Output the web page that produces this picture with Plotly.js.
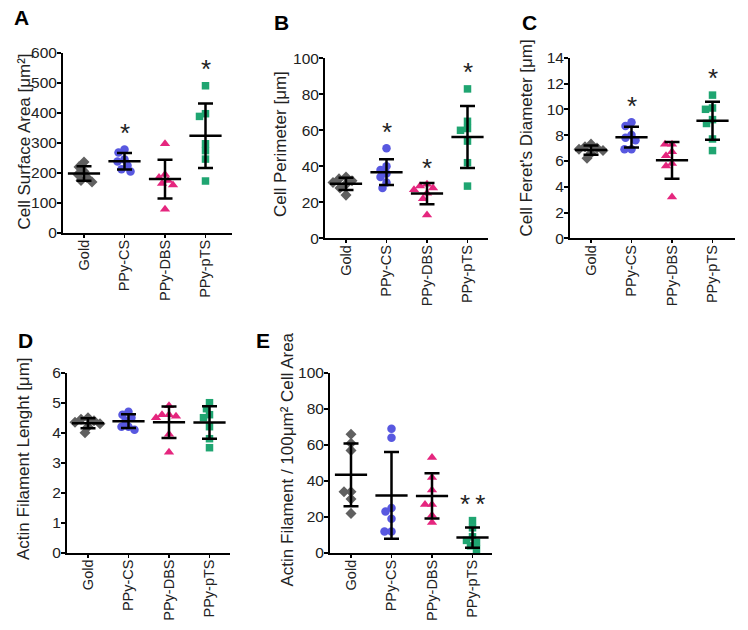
<!DOCTYPE html>
<html>
<head>
<meta charset="utf-8">
<script src="https://cdn.plot.ly/plotly-3.0.1.min.js"></script>
<style>
  html, body { margin: 0; padding: 0; background: #fff; }
  #chart { width: 748px; height: 630px; }
</style>
</head>
<body>
<div id="chart"></div>
<script>
var groups = ['Gold', 'PPy-CS', 'PPy-DBS', 'PPy-pTS'];
var colors = ['#606060', '#5858e0', '#e5267e', '#1fa571'];
var symbols = ['diamond', 'circle', 'triangle-up', 'square'];
var symbolSizes = [8.5, 8.5, 9, 7.5];

// values, one list per substrate (Gold, CS, DBS, pTS)
var surfaceArea = [
  [236, 220, 205, 195, 185, 175, 170],
  [278, 268, 245, 238, 225, 212, 205],
  [297, 195, 185, 175, 165, 160, 79],
  [490, 397, 388, 297, 274, 246, 173]
];
var perimeter = [
  [34, 33, 32, 31, 30, 28, 24],
  [50, 40, 38, 36, 34, 31, 28],
  [30, 29, 28, 27, 25, 22, 13],
  [83, 65, 61, 60, 54, 42, 29]
];
var feretDiameter = [
  [7.3, 7.1, 7.0, 6.9, 6.8, 6.6, 6.2],
  [9.0, 8.7, 8.0, 7.8, 7.6, 6.9, 6.9],
  [7.3, 7.3, 6.7, 6.4, 5.8, 5.6, 3.2],
  [11.1, 10.1, 10.0, 9.2, 8.9, 7.7, 6.8]
];
var filamentLength = [
  [4.5, 4.45, 4.4, 4.35, 4.3, 4.2, 4.0],
  [4.7, 4.6, 4.5, 4.4, 4.2, 4.2, 4.1],
  [4.9, 4.6, 4.6, 4.55, 4.5, 3.95, 3.35],
  [5.0, 4.8, 4.6, 4.5, 4.2, 3.8, 3.5]
];
var filamentPerArea = [
  [66, 61, 57, 34, 34, 30, 22],
  [69, 64, 25, 23, 19, 12, 12],
  [53, 42, 35, 27, 27, 21, 17],
  [18, 14, 9, 7, 6, 4, 2]
];

// significance marks per group
var areaStars = ['', '*', '', '*'];
var perimeterStars = ['', '*', '*', '*'];
var feretStars = ['', '*', '', '*'];
var lengthStars = ['', '', '', ''];
var perAreaStars = ['', '', '', '*\u2009*'];

var W = 748, H = 630;
var catStep = 40.5;   // px between categories
var catOffset = 21;   // px from y axis to first category
var font = 'Arial, "Liberation Sans", sans-serif';

var panels = [
  {label: 'A', data: surfaceArea, stars: areaStars, ymax: 600, dtick: 100,
   title: 'Cell Surface Area [μm²]',
   left: 63, right: 232, top: 52.7, bottom: 233, titleX: 24, titleY: 141.5, labelX: 21, labelY: 17.5},
  {label: 'B', data: perimeter, stars: perimeterStars, ymax: 100, dtick: 20,
   title: 'Cell Perimeter [μm]',
   left: 325, right: 488, top: 58.3, bottom: 238.3, titleX: 281, titleY: 144, labelX: 281.5, labelY: 22.5},
  {label: 'C', data: feretDiameter, stars: feretStars, ymax: 14, dtick: 2,
   title: "Cell Feret's Diameter [μm]",
   left: 570, right: 735, top: 57.7, bottom: 238.3, titleX: 526, titleY: 138.5, labelX: 529.5, labelY: 22.5},
  {label: 'D', data: filamentLength, stars: lengthStars, ymax: 6, dtick: 1,
   title: 'Actin Filament Lenght [μm]',
   left: 67, right: 230, top: 372.7, bottom: 552.7, titleX: 23, titleY: 459, labelX: 25.5, labelY: 340.5},
  {label: 'E', data: filamentPerArea, stars: perAreaStars, ymax: 100, dtick: 20,
   title: 'Actin Filament / 100μm² Cell Area',
   left: 330, right: 492, top: 373, bottom: 553, titleX: 287, titleY: 459.5, labelX: 262.5, labelY: 340.5}
];

function mean(a) {
  var s = 0;
  a.forEach(function(v) { s += v; });
  return s / a.length;
}
function sd(a) {
  var m = mean(a), s = 0;
  a.forEach(function(v) { s += (v - m) * (v - m); });
  return Math.sqrt(s / (a.length - 1));
}

// simple beeswarm: spread points sideways so they don't overlap (px offsets)
function swarm(vals, pxPerY, d) {
  var order = vals.map(function(v, i) { return i; })
    .sort(function(a, b) { return vals[b] - vals[a]; });
  var placed = [], off = [];
  order.forEach(function(i) {
    var y = vals[i] * pxPerY;
    for (var k = 0; k < 60; k++) {
      var c = (k % 2 === 0 ? 1 : -1) * Math.ceil(k / 2);
      var ok = placed.every(function(p) {
        var dx = p.x - c, dy = p.y - y;
        return dx * dx + dy * dy >= d * d;
      });
      if (ok) break;
    }
    placed.push({x: c, y: y});
    off[i] = c;
  });
  return off;
}

var traces = [];
var layout = {
  width: W, height: H,
  margin: {l: 0, r: 0, t: 0, b: 0},
  paper_bgcolor: 'white',
  plot_bgcolor: 'white',
  showlegend: false,
  font: {family: font, color: '#222'},
  annotations: []
};

panels.forEach(function(p, n) {
  var sfx = n === 0 ? '' : String(n + 1);
  var xa = 'x' + sfx, ya = 'y' + sfx;
  var len = p.right - p.left;
  var pxPerY = (p.bottom - p.top) / p.ymax;

  layout['xaxis' + sfx] = {
    domain: [p.left / W, p.right / W],
    anchor: ya,
    range: [-catOffset / catStep, (len - catOffset) / catStep],
    tickvals: [0, 1, 2, 3],
    ticktext: groups,
    tickangle: -90,
    tickfont: {size: 14.5, color: '#222'},
    ticks: 'outside', ticklen: 3, tickwidth: 1.5, tickcolor: 'black',
    ticklabelstandoff: -4,
    showline: true, linewidth: 2, linecolor: 'black',
    showgrid: false, zeroline: false, fixedrange: true
  };
  layout['yaxis' + sfx] = {
    domain: [1 - p.bottom / H, 1 - p.top / H],
    anchor: xa,
    range: [0, p.ymax],
    dtick: p.dtick,
    tickfont: {size: 15.5, color: '#222'},
    ticks: 'outside', ticklen: 4, tickwidth: 2, tickcolor: 'black',
    ticklabelstandoff: -3,
    showline: true, linewidth: 2, linecolor: 'black',
    showgrid: false, zeroline: false, fixedrange: true
  };

  p.data.forEach(function(vals, g) {
    var off = swarm(vals, pxPerY, 6.5);
    traces.push({
      x: vals.map(function(v, i) { return g + off[i] / catStep; }),
      y: vals,
      xaxis: xa, yaxis: ya,
      type: 'scatter', mode: 'markers',
      cliponaxis: false,
      marker: {symbol: symbols[g], size: symbolSizes[g], color: colors[g], line: {width: 0}},
      hoverinfo: 'y'
    });
  });

  // mean line with SD whiskers
  traces.push({
    x: [0, 1, 2, 3],
    y: p.data.map(mean),
    xaxis: xa, yaxis: ya,
    type: 'scatter', mode: 'markers',
    cliponaxis: false,
    marker: {symbol: 'line-ew', size: 23, color: 'black', line: {width: 2.5, color: 'black'}},
    error_y: {type: 'data', array: p.data.map(sd), color: 'black', thickness: 2.5, width: 7.5},
    hoverinfo: 'y'
  });

  p.stars.forEach(function(s, g) {
    if (!s) return;
    layout.annotations.push({
      xref: xa, yref: ya, x: g, y: Math.max.apply(null, p.data[g]) + 0.12 * p.ymax,
      text: s, showarrow: false, yanchor: 'middle', yshift: -5,
      font: {size: 26, color: '#222', family: font}
    });
  });

  layout.annotations.push({
    xref: 'paper', yref: 'paper', x: p.titleX / W, y: 1 - p.titleY / H,
    text: p.title, textangle: -90, showarrow: false,
    xanchor: 'center', yanchor: 'middle',
    font: {size: 17, color: '#222', family: font}
  });
  layout.annotations.push({
    xref: 'paper', yref: 'paper', x: p.labelX / W, y: 1 - p.labelY / H,
    text: '<b>' + p.label + '</b>', showarrow: false,
    xanchor: 'center', yanchor: 'middle',
    font: {size: 21, color: 'black', family: font}
  });
});

Plotly.newPlot('chart', traces, layout, {displayModeBar: false, staticPlot: true});
</script>
</body>
</html>
